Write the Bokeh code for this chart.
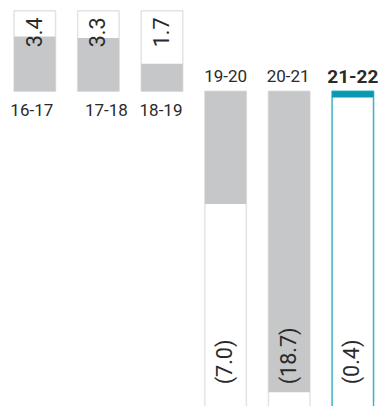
import math
from bokeh.plotting import figure
from bokeh.models import ColumnDataSource
from bokeh.core.properties import value
from bokeh.embed import file_html
from bokeh.resources import INLINE

# data
years = ["16-17", "17-18", "18-19", "19-20", "20-21", "21-22"]
values = [3.4, 3.3, 1.7, -7.0, -18.7, -0.4]
value_labels = ["3.4", "3.3", "1.7", "(7.0)", "(18.7)", "(0.4)"]
pos_box_max = 5.0
neg_box_min = -20.0

# styling
GRAY = "#c6c7c8"
BORDER = "#e3e3e3"
TEAL = "#0898b0"
TEAL_LINE = "#36b4ca"
TEXT = "#2a2a2a"
label_dx = [-3, 8, -1, 0, -1, 0]

xs = list(range(len(years)))
W = 0.652

p = figure(width=378, height=406, output_backend="svg", toolbar_location=None,
           x_range=(-0.539, 5.404), y_range=(-19.58, 5.63), min_border=0)
p.axis.visible = False
p.grid.visible = False
p.outline_line_color = None
p.background_fill_color = "white"
p.border_fill_color = "white"

last = len(years) - 1
box_top, box_bot, line_cols, fill_cols = [], [], [], []
f_top, f_bot = [], []
for i, v in enumerate(values):
    if v >= 0:
        box_top.append(pos_box_max); box_bot.append(0.0)
        f_top.append(v); f_bot.append(0.0)
    else:
        box_top.append(0.0); box_bot.append(neg_box_min)
        f_top.append(0.0); f_bot.append(v)
    line_cols.append(TEAL_LINE if i == last else BORDER)
    fill_cols.append(TEAL if i == last else GRAY)

src = ColumnDataSource(dict(
    left=[x - W / 2 for x in xs], right=[x + W / 2 for x in xs],
    btop=box_top, bbot=box_bot, ftop=f_top, fbot=f_bot,
    lc=line_cols, fc=fill_cols))

p.quad(left="left", right="right", top="btop", bottom="bbot", source=src,
       fill_color="white", line_color="lc", line_width=1.5)
p.quad(left="left", right="right", top="ftop", bottom="fbot", source=src,
       fill_color="fc", line_color=None)

# value labels (rotated)
pos_i = [i for i, v in enumerate(values) if v >= 0]
neg_i = [i for i, v in enumerate(values) if v < 0]
p.text(x=[xs[i] for i in pos_i], y=[4.58] * len(pos_i),
       text=[value_labels[i] for i in pos_i], angle=math.pi / 2,
       text_align="right", text_baseline="middle", x_offset=-1,
       text_font=value("Roboto"), text_font_size="21.5px", text_color=TEXT)
p.text(x=[xs[i] for i in neg_i], y=[-18.2] * len(neg_i),
       text=[value_labels[i] for i in neg_i], angle=math.pi / 2,
       text_align="left", text_baseline="middle", x_offset=-1,
       text_font=value("Roboto"), text_font_size="21.5px", text_color=TEXT)

# category labels
top_y = -1.14
bot_y = 0.93
for i, yr in enumerate(years):
    is_pos = values[i] >= 0
    p.text(x=[xs[i]], y=[top_y if is_pos else bot_y], text=[yr],
           x_offset=label_dx[i], text_align="center", text_baseline="middle",
           text_font=value("Roboto"),
           text_font_size="19px" if i == last else "17px",
           text_font_style="bold" if i == last else "normal",
           text_color=TEXT)

open("out.html", "w").write(file_html(p, INLINE))
